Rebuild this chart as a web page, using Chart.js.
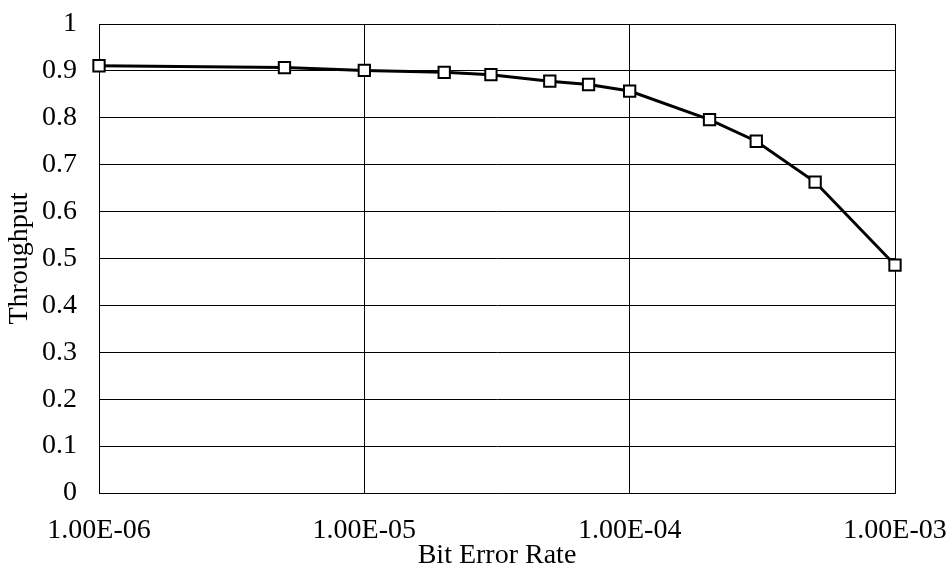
<!DOCTYPE html>
<html>
<head>
<meta charset="utf-8">
<script src="https://cdn.jsdelivr.net/npm/chart.js@4"></script>
<style>
    html, body { margin: 0; padding: 0; background: #fff; }
    #wrap { width: 949px; height: 572px; }
</style>
</head>
<body>
<div id="wrap"><canvas id="tputChart"></canvas></div>
<script>
// データ
const berValues = [1e-6, 5e-6, 1e-5, 2e-5, 3e-5, 5e-5, 7e-5, 1e-4, 2e-4, 3e-4, 5e-4, 1e-3];
const throughput = [0.911, 0.907, 0.901, 0.897, 0.892, 0.878, 0.871, 0.857, 0.796, 0.750, 0.663, 0.486];
const xTickValues = [1e-6, 1e-5, 1e-4, 1e-3];
const xTickLabels = ['1.00E-06', '1.00E-05', '1.00E-04', '1.00E-03'];

const fontFamily = '"Liberation Serif", "Times New Roman", serif';

const points = berValues.map((x, i) => ({ x: x, y: throughput[i] }));

const ctx = document.getElementById('tputChart').getContext('2d');
new Chart(ctx, {
    type: 'line',
    data: {
        datasets: [{
            label: 'Throughput',
            data: points,
            borderColor: '#000',
            borderWidth: 3,
            backgroundColor: '#fff',
            pointStyle: 'rect',
            pointRadius: 8,
            pointBorderWidth: 2,
            pointBorderColor: '#000',
            pointBackgroundColor: '#fff',
            tension: 0,
            clip: false
        }]
    },
    options: {
        responsive: true,
        maintainAspectRatio: false,
        animation: false,
        layout: { padding: { top: 0, left: 6, right: 0, bottom: 4 } },
        scales: {
            x: {
                type: 'logarithmic',
                min: 1e-6,
                max: 1e-3,
                afterBuildTicks: axis => {
                    axis.ticks = xTickValues.map(v => ({ value: v }));
                },
                // 余白を固定してプロット領域を合わせる
                afterFit: axis => {
                    axis.paddingLeft = 0;
                    axis.paddingRight = 54;
                    axis.height = 75;
                },
                ticks: {
                    color: '#000',
                    font: { family: fontFamily, size: 28, lineHeight: 1 },
                    padding: 24,
                    maxRotation: 0,
                    autoSkip: false,
                    callback: (val) => {
                        const idx = xTickValues.findIndex(t => Math.abs(Math.log10(t) - Math.log10(val)) < 1e-6);
                        return idx >= 0 ? xTickLabels[idx] : '';
                    }
                },
                grid: { color: '#000', lineWidth: 1, drawTicks: false },
                border: { color: '#000', width: 1 },
                title: {
                    display: true,
                    text: 'Bit Error Rate',
                    color: '#000',
                    font: { family: fontFamily, size: 28, lineHeight: 0.9 },
                    padding: { top: 0, bottom: 0 }
                }
            },
            y: {
                min: 0,
                max: 1,
                afterFit: axis => {
                    axis.paddingTop = 24;
                    axis.paddingBottom = 0;
                    axis.width = 93;
                },
                ticks: {
                    stepSize: 0.1,
                    color: '#000',
                    font: { family: fontFamily, size: 28, lineHeight: 1 },
                    padding: 22,
                    callback: v => String(Math.round(v * 10) / 10)
                },
                grid: { color: '#000', lineWidth: 1, drawTicks: false },
                border: { color: '#000', width: 1 },
                title: {
                    display: true,
                    text: 'Throughput',
                    color: '#000',
                    font: { family: fontFamily, size: 28, lineHeight: 1 },
                    padding: { top: 0, bottom: 0 }
                }
            }
        },
        plugins: {
            legend: { display: false },
            tooltip: { enabled: false }
        }
    }
});
</script>
</body>
</html>
